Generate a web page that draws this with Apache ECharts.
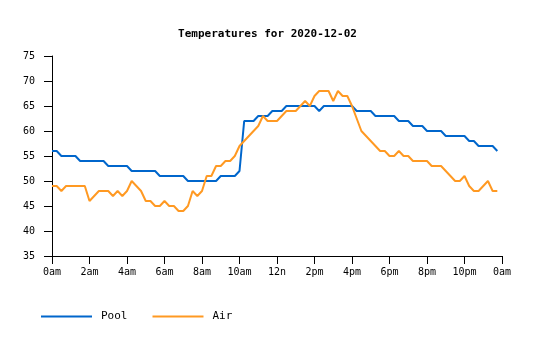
<!DOCTYPE html>
<html>
<head>
<meta charset="utf-8">
<script src="https://cdn.jsdelivr.net/npm/echarts@6/dist/echarts.min.js"></script>
<style>html,body{margin:0;padding:0;background:#fff}#c{width:535px;height:340px}</style>
</head>
<body>
<div id="c"></div>
<script>
// 15-minute samples starting at midnight
const xTickLabels = ['0am','2am','4am','6am','8am','10am','12n','2pm','4pm','6pm','8pm','10pm','0am'];
const seriesNames = ['Pool', 'Air'];
const pool = [56,56,55,55,55,55,54,54,54,54,54,54,53,53,53,53,53,52,52,52,52,52,52,51,
  51,51,51,51,51,50,50,50,50,50,50,50,51,51,51,51,52,62,62,62,63,63,63,64,
  64,64,65,65,65,65,65,65,65,64,65,65,65,65,65,65,65,64,64,64,64,63,63,63,
  63,63,62,62,62,61,61,61,60,60,60,60,59,59,59,59,59,58,58,57,57,57,57,56];
const air = [49,49,48,49,49,49,49,49,46,47,48,48,48,47,48,47,48,50,49,48,46,46,45,45,
  46,45,45,44,44,45,48,47,48,51,51,53,53,54,54,55,57,58,59,60,61,63,62,62,
  62,63,64,64,64,65,66,65,67,68,68,68,66,68,67,67,65,62.5,60,59,58,57,56,56,
  55,55,56,55,55,54,54,54,54,53,53,53,52,51,50,50,51,49,48,48,49,50,48,48];
const sampleHours = 0.25;

const toPairs = arr => arr.map((v, i) => [i * sampleHours, v]);
const font = '"DejaVu Sans Mono", "Liberation Mono", monospace';

const chart = echarts.init(document.getElementById('c'), null, {renderer: 'canvas'});
chart.setOption({
  animation: false,
  backgroundColor: '#ffffff',
  title: {
    text: 'Temperatures for 2020-12-02',
    left: 'center', top: 24,
    textStyle: {fontFamily: font, fontSize: 11, fontWeight: 'bold', color: '#000'}
  },
  legend: {
    left: 36, top: 306,
    icon: 'rect', itemWidth: 51, itemHeight: 2, itemGap: 25,
    textStyle: {fontFamily: font, fontSize: 11, color: '#000', padding: [0, 0, 0, 4]},
    data: seriesNames
  },
  grid: {left: 52, right: 33, top: 56, bottom: 84, containLabel: false, outerBoundsMode: 'none'},
  xAxis: {
    type: 'value', min: 0, max: 24, interval: 2,
    axisLine: {lineStyle: {color: '#000', width: 1}},
    axisTick: {length: 8, lineStyle: {color: '#000'}},
    splitLine: {show: false},
    axisLabel: {
      fontFamily: font, fontSize: 10, color: '#000', margin: 11,
      formatter: v => xTickLabels[Math.round(v / 2)]
    }
  },
  yAxis: {
    type: 'value', min: 35, max: 75, interval: 5,
    axisLine: {show: true, lineStyle: {color: '#000', width: 1}},
    axisTick: {show: true, length: 8, lineStyle: {color: '#000'}},
    splitLine: {show: false},
    axisLabel: {fontFamily: font, fontSize: 10, color: '#000', margin: 17}
  },
  series: [
    {name: seriesNames[0], type: 'line', data: toPairs(pool), showSymbol: false,
     lineStyle: {width: 2, color: '#0066cc'}, itemStyle: {color: '#0066cc'}},
    {name: seriesNames[1], type: 'line', data: toPairs(air), showSymbol: false,
     lineStyle: {width: 2, color: '#ff9922'}, itemStyle: {color: '#ff9922'}}
  ]
});
</script>
</body>
</html>
